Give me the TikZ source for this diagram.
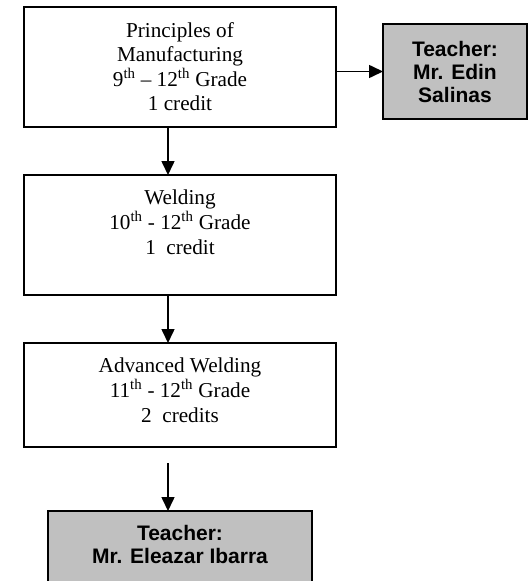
\documentclass[tikz,border=0pt]{standalone}
\usepackage{fontspec}
\setmainfont{Liberation Serif}
\setsansfont{Liberation Sans}
\usepackage{tikz}
\usetikzlibrary{positioning,arrows.meta}
\definecolor{silver}{HTML}{C0C0C0}

\begin{document}
\begin{tikzpicture}[x=1pt,y=1pt,
  course/.style={draw,line width=1.6pt,minimum width=312pt,inner sep=0pt,outer sep=0pt},
  teacher/.style={draw,line width=1.6pt,fill=silver,inner sep=0pt,outer sep=0pt},
  info/.style={align=center,inner sep=0pt,font=\fontsize{21.2}{24.6}\selectfont},
  teachtext/.style={align=center,inner sep=0pt,font=\sffamily\bfseries\fontsize{21}{23}\selectfont},
  arr/.style={line width=1.6pt,-{Triangle[length=14pt,width=13pt]}}]
  \useasboundingbox (0,0) rectangle (529,-581);
  \clip (0,0) rectangle (529,-581);
  \node[course,minimum height=120pt] (principles) at (180,-67) {};
  \node[course,minimum height=120pt] (welding) at (180,-235) {};
  \node[course,minimum height=104pt] (advanced) at (180,-395) {};
  \node[teacher,teachtext,minimum width=144pt,minimum height=95pt] (edin) at (455,-71.5) {Teacher:\\Mr. Edin\\Salinas};
  \node[teacher,minimum width=264pt,minimum height=90pt] (eleazar) at (180,-556) {};
  \node[info,below=15pt of principles.north] (principlestext) {Principles of\\Manufacturing\\9\textsuperscript{th} -- 12\textsuperscript{th} Grade\\1 credit};
  \node[info,below=15pt of welding.north] (weldingtext) {Welding\\10\textsuperscript{th} - 12\textsuperscript{th} Grade\\1\ \ credit};
  \node[info,below=15pt of advanced.north] (advancedtext) {Advanced Welding\\11\textsuperscript{th} - 12\textsuperscript{th} Grade\\2\ \ credits};
  \node[teachtext,below=14pt of eleazar.north] (eleazartext) {Teacher:\\Mr. Eleazar Ibarra};
  \draw[arr] (principles.east |- edin.west) -- (edin.west);
  \draw[arr] ([xshift=-12pt]principles.south) -- ([xshift=-12pt]welding.north);
  \draw[arr] ([xshift=-12pt]welding.south) -- ([xshift=-12pt]advanced.north);
  \draw[arr] ([xshift=-12pt,yshift=-16pt]advanced.south) -- ([xshift=-12pt]eleazar.north);
\end{tikzpicture}
\end{document}
